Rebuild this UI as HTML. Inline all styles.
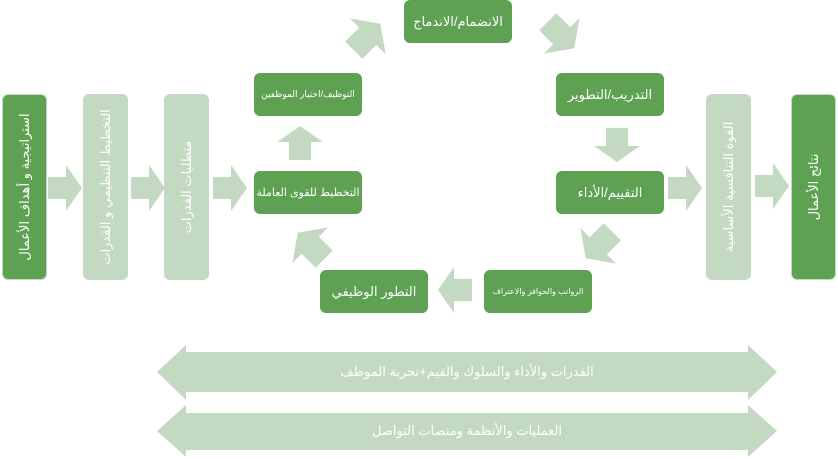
<!DOCTYPE html>
<html><head><meta charset="utf-8">
<style>
body{margin:0;width:838px;height:459px;background:#fff;overflow:hidden;position:relative;font-family:"Liberation Sans","DejaVu Sans",sans-serif}
.b{position:absolute;border-radius:6px;color:#fff;display:flex;align-items:center;justify-content:center;text-align:center;direction:rtl;white-space:nowrap}
.d{background:#5ea152}
.l{background:#c3d9c2}
.v{position:absolute;top:94px;width:45px;height:186px;border-radius:6px}
.v span{position:absolute;left:50%;top:50%;transform:translate(-50%,-50%) rotate(-90deg);white-space:nowrap;color:#fff;font-size:13px;direction:rtl}
.t{position:absolute;color:#fff;direction:rtl;font-size:13px;white-space:nowrap;transform:translate(-50%,-50%)}
</style></head><body>
<svg width="838" height="459" style="position:absolute;left:0;top:0">
<defs><path id="a" d="M-17,-11 L1,-11 L1,-23 L17,0 L1,23 L1,11 L-17,11Z" fill="#c3d9c2"/></defs>
<use href="#a" transform="translate(65,188)"/>
<use href="#a" transform="translate(148,188)"/>
<use href="#a" transform="translate(230,188)"/>
<use href="#a" transform="translate(685,188)"/>
<use href="#a" transform="translate(772,186)"/>
<use href="#a" transform="translate(300,143) rotate(-90)"/>
<use href="#a" transform="translate(617,145) rotate(90)"/>
<use href="#a" transform="translate(455,290) rotate(180)"/>
<use href="#a" transform="translate(367,37) rotate(-45) scale(1.1)"/>
<use href="#a" transform="translate(561,35) rotate(45) scale(1.1)"/>
<use href="#a" transform="translate(599,245) rotate(135) scale(1.1)"/>
<use href="#a" transform="translate(311,246) rotate(-135) scale(1.1)"/>
<path d="M157,372 L186,345 L186,352 L748,352 L748,345 L777,372 L748,400 L748,392 L186,392 L186,400Z" fill="#c3d9c2"/>
<path d="M157,431 L186,405 L186,413 L748,413 L748,405 L777,431 L748,457 L748,450 L186,450 L186,457Z" fill="#c3d9c2"/>
</svg>
<div class="v d" style="left:2px;border:1px solid #c3d9c2;box-sizing:border-box"><span>استراتيجية و أهداف الأعمال</span></div>
<div class="v l" style="left:83px"><span>التخطيط التنظيمي و القدرات</span></div>
<div class="v l" style="left:164px"><span>متطلبات القدرات</span></div>
<div class="v l" style="left:706px"><span>القوة التنافسية الأساسية</span></div>
<div class="v d" style="left:791px;border:1px solid #c3d9c2;box-sizing:border-box"><span>نتائج الأعمال</span></div>
<div class="b d" style="left:404px;top:0;width:108px;height:43px;font-size:13px">الانضمام/الاندماج</div>
<div class="b d" style="left:254px;top:73px;width:108px;height:43px;font-size:9px">التوظيف/اختيار الموظفين</div>
<div class="b d" style="left:254px;top:171px;width:108px;height:43px;font-size:11px">التخطيط للقوى العاملة</div>
<div class="b d" style="left:320px;top:270px;width:108px;height:43px;font-size:13px">التطور الوظيفي</div>
<div class="b d" style="left:484px;top:270px;width:108px;height:43px;font-size:8px">الرواتب والحوافز والاعتراف</div>
<div class="b d" style="left:556px;top:73px;width:108px;height:43px;font-size:13px">التدريب/التطوير</div>
<div class="b d" style="left:556px;top:171px;width:108px;height:43px;font-size:13px">التقييم/الأداء</div>
<div class="t" style="left:467px;top:372px">القدرات والأداء والسلوك والقيم+تجربة الموظف</div>
<div class="t" style="left:467px;top:431px">العمليات والأنظمة ومنصات التواصل</div>
</body></html>
